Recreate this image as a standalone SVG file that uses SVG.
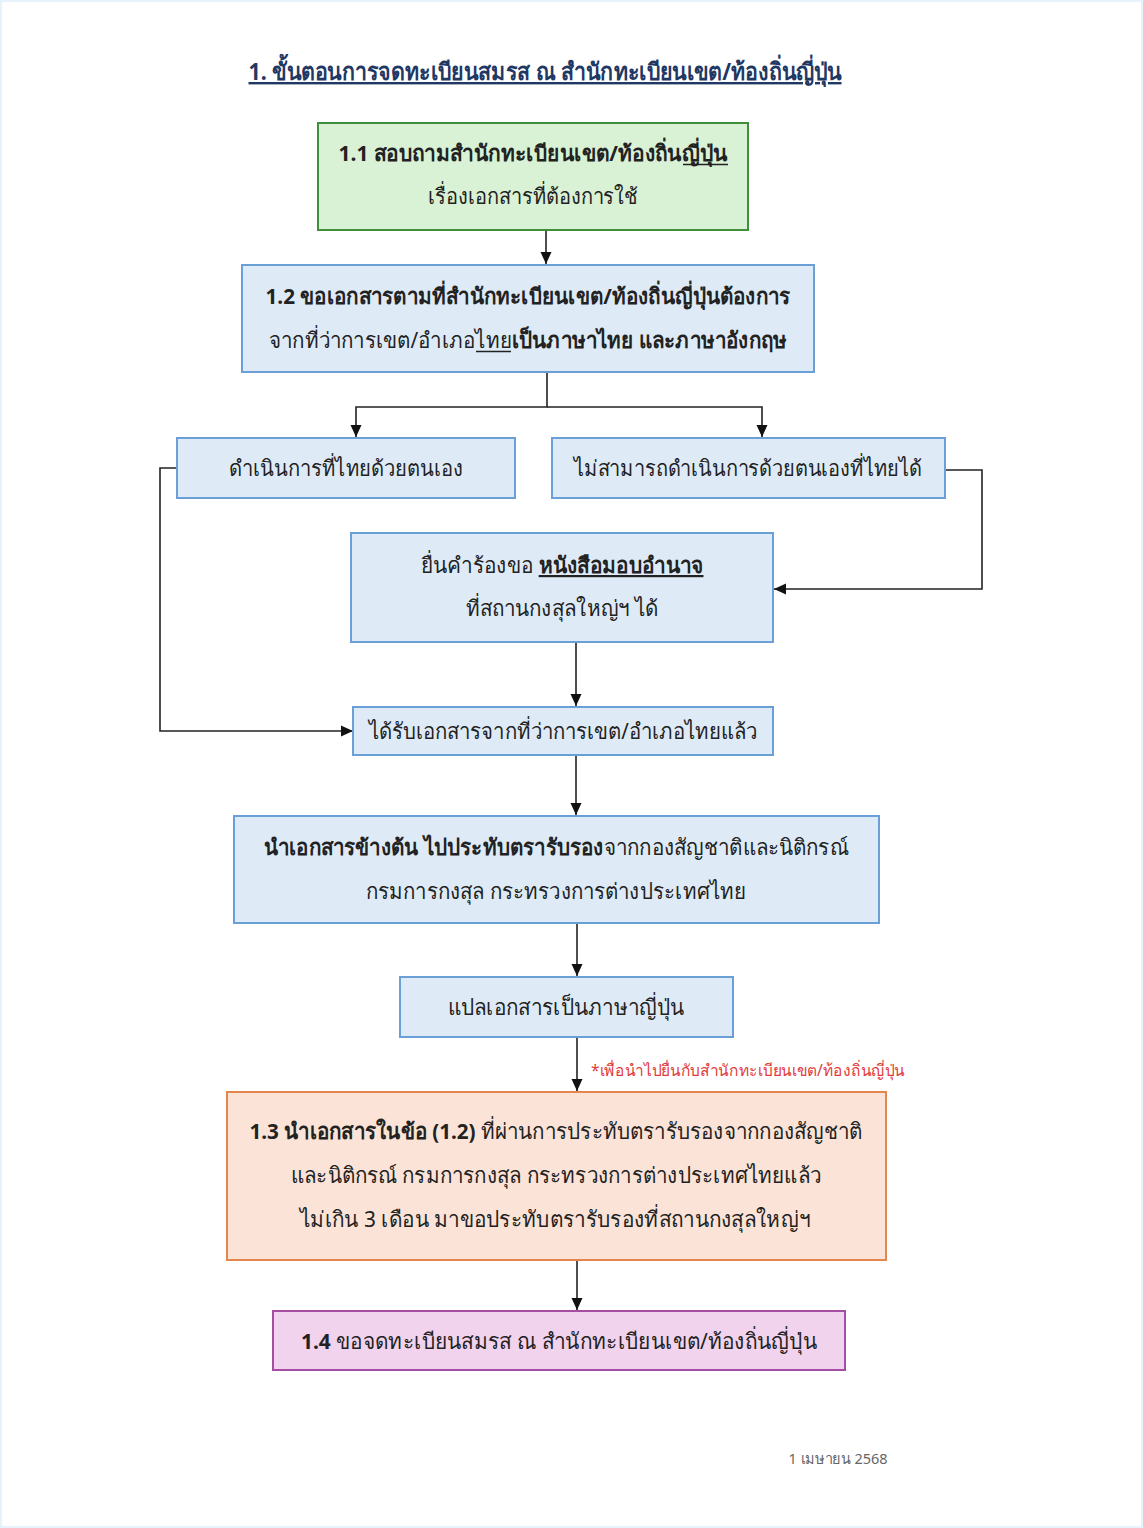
<svg xmlns="http://www.w3.org/2000/svg" width="1143" height="1528" viewBox="0 0 1143 1528">
<defs>
<style>
text{font-family:"Noto Sans","DejaVu Sans",sans-serif;fill:#222;text-anchor:middle;}
.t{font-size:22px;}
.b{font-weight:bold;}
.u{text-decoration:underline;}
.ul{stroke:#222;stroke-width:1.5;}
.blue{fill:#deebf7;stroke:#6a9fd8;stroke-width:2;}
.con{fill:none;stroke:#222;stroke-width:1.6;}
</style>
<marker id="ah" viewBox="0 0 12 12" refX="12" refY="6" markerWidth="12" markerHeight="12" markerUnits="userSpaceOnUse" orient="auto">
<path d="M0,0.5 L12,6 L0,11.5 z" fill="#111"/>
</marker>
</defs>
<rect x="0" y="0" width="1143" height="1528" fill="#e6f3fa"/>
<rect x="2" y="2" width="1139" height="1524" fill="#ffffff"/>

<g id="title">
<text x="545" y="80" font-size="24" class="b u" style="fill:#1f3864" textLength="593" lengthAdjust="spacingAndGlyphs">1. ขั้นตอนการจดทะเบียนสมรส ณ สำนักทะเบียนเขต/ท้องถิ่นญี่ปุ่น</text>
</g>

<g id="connectors">
<path class="con" d="M546,230 V264" marker-end="url(#ah)"/>
<path class="con" d="M547,372 V407 H356 V437" marker-end="url(#ah)"/>
<path class="con" d="M547,407 H762 V437" marker-end="url(#ah)"/>
<path class="con" d="M945,470 H982 V589 H774" marker-end="url(#ah)"/>
<path class="con" d="M177,468 H160 V731 H353" marker-end="url(#ah)"/>
<path class="con" d="M576,642 V706" marker-end="url(#ah)"/>
<path class="con" d="M576,755 V815" marker-end="url(#ah)"/>
<path class="con" d="M577,923 V976" marker-end="url(#ah)"/>
<path class="con" d="M577,1037 V1091" marker-end="url(#ah)"/>
<path class="con" d="M577,1260 V1310" marker-end="url(#ah)"/>
</g>

<g id="n11">
<rect x="318" y="123" width="430" height="107" fill="#d9f1d4" stroke="#3f8f3a" stroke-width="2"/>
<text x="533" y="161" class="t b" textLength="389" lengthAdjust="spacingAndGlyphs">1.1 สอบถามสำนักทะเบียนเขต/ท้องถิ่นญี่ปุ่น</text>
<line class="ul" x1="683" y1="164.5" x2="728" y2="164.5"/>
<text x="533" y="204" class="t" textLength="210" lengthAdjust="spacingAndGlyphs">เรื่องเอกสารที่ต้องการใช้</text>
</g>

<g id="n12">
<rect x="242" y="265" width="572" height="107" class="blue"/>
<text x="528" y="304" class="t b" textLength="525" lengthAdjust="spacingAndGlyphs">1.2 ขอเอกสารตามที่สำนักทะเบียนเขต/ท้องถิ่นญี่ปุ่นต้องการ</text>
<text x="528" y="348" class="t" textLength="518" lengthAdjust="spacingAndGlyphs">จากที่ว่าการเขต/อำเภอไทย<tspan class="b">เป็นภาษาไทย และภาษาอังกฤษ</tspan></text>
<line class="ul" x1="476" y1="351.5" x2="511" y2="351.5"/>
</g>

<g id="nA">
<rect x="177" y="438" width="338" height="60" class="blue"/>
<text x="346" y="476" class="t" textLength="234" lengthAdjust="spacingAndGlyphs">ดำเนินการที่ไทยด้วยตนเอง</text>
</g>

<g id="nB">
<rect x="552" y="438" width="393" height="60" class="blue"/>
<text x="748" y="476" class="t" textLength="348" lengthAdjust="spacingAndGlyphs">ไม่สามารถดำเนินการด้วยตนเองที่ไทยได้</text>
</g>

<g id="nC">
<rect x="351" y="533" width="422" height="109" class="blue"/>
<text x="562" y="573" class="t" textLength="283" lengthAdjust="spacingAndGlyphs">ยื่นคำร้องขอ <tspan class="b u">หนังสือมอบอำนาจ</tspan></text>
<text x="562" y="616" class="t" textLength="193" lengthAdjust="spacingAndGlyphs">ที่สถานกงสุลใหญ่ฯ ได้</text>
</g>

<g id="nD">
<rect x="353" y="707" width="420" height="48" class="blue"/>
<text x="563" y="739" class="t" textLength="389" lengthAdjust="spacingAndGlyphs">ได้รับเอกสารจากที่ว่าการเขต/อำเภอไทยแล้ว</text>
</g>

<g id="nE">
<rect x="234" y="816" width="645" height="107" class="blue"/>
<text x="556" y="855" class="t" textLength="585" lengthAdjust="spacingAndGlyphs"><tspan class="b">นำเอกสารข้างต้น ไปประทับตรารับรอง</tspan>จากกองสัญชาติและนิติกรณ์</text>
<text x="556" y="899" class="t" textLength="380" lengthAdjust="spacingAndGlyphs">กรมการกงสุล กระทรวงการต่างประเทศไทย</text>
</g>

<g id="nF">
<rect x="400" y="977" width="333" height="60" class="blue"/>
<text x="566" y="1015" class="t" textLength="237" lengthAdjust="spacingAndGlyphs">แปลเอกสารเป็นภาษาญี่ปุ่น</text>
</g>

<g id="note">
<text x="748" y="1076" font-size="16" style="fill:#e23b3b" textLength="314" lengthAdjust="spacingAndGlyphs">*เพื่อนำไปยื่นกับสำนักทะเบียนเขต/ท้องถิ่นญี่ปุ่น</text>
</g>

<g id="n13">
<rect x="227" y="1092" width="659" height="168" fill="#fbe4d7" stroke="#e4874e" stroke-width="2"/>
<text x="556" y="1139" class="t" textLength="613" lengthAdjust="spacingAndGlyphs"><tspan class="b">1.3 นำเอกสารในข้อ (1.2)</tspan> ที่ผ่านการประทับตรารับรองจากกองสัญชาติ</text>
<text x="556" y="1183" class="t" textLength="530" lengthAdjust="spacingAndGlyphs">และนิติกรณ์ กรมการกงสุล กระทรวงการต่างประเทศไทยแล้ว</text>
<text x="555" y="1227" class="t" textLength="510" lengthAdjust="spacingAndGlyphs">ไม่เกิน 3 เดือน มาขอประทับตรารับรองที่สถานกงสุลใหญ่ฯ</text>
</g>

<g id="n14">
<rect x="273" y="1311" width="572" height="59" fill="#f2d3ee" stroke="#a54ca5" stroke-width="2"/>
<text x="559" y="1349" class="t" textLength="516" lengthAdjust="spacingAndGlyphs"><tspan class="b">1.4</tspan> ขอจดทะเบียนสมรส ณ สำนักทะเบียนเขต/ท้องถิ่นญี่ปุ่น</text>
</g>

<g id="date">
<text x="838" y="1464" font-size="15" style="fill:#666" textLength="99" lengthAdjust="spacingAndGlyphs">1 เมษายน 2568</text>
</g>
</svg>
